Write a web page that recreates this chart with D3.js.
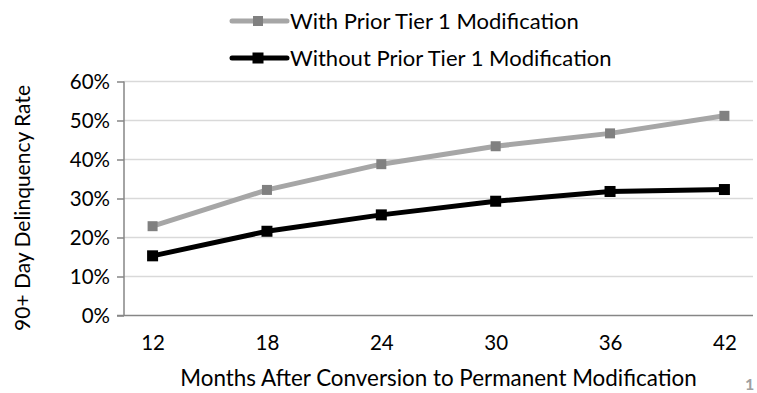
<!DOCTYPE html>
<html>
<head>
<meta charset="utf-8">
<script src="https://cdn.jsdelivr.net/npm/d3@7"></script>
<style>
  html, body { margin: 0; padding: 0; background: #fff; }
  svg { display: block; font-family: Lato, "Open Sans", sans-serif; }
</style>
</head>
<body>
<div id="chart"></div>
<script>
// Data
const months = ["12", "18", "24", "30", "36", "42"];
const withPrior = [0.229, 0.322, 0.388, 0.434, 0.467, 0.512];
const withoutPrior = [0.153, 0.216, 0.258, 0.293, 0.318, 0.323];
const yTicks = [0, 0.1, 0.2, 0.3, 0.4, 0.5, 0.6];

const series = [
  { name: "With Prior Tier 1 Modification", values: withPrior, line: "#a6a6a6", marker: "#808080", size: 10 },
  { name: "Without Prior Tier 1 Modification", values: withoutPrior, line: "#000000", marker: "#000000", size: 11 }
];

const width = 757, height = 393;
const margin = { top: 81.5, right: 4, bottom: 77.5, left: 124 };
const innerW = width - margin.left - margin.right;
const innerH = height - margin.top - margin.bottom;

const svg = d3.select("#chart").append("svg")
  .attr("width", width)
  .attr("height", height);

const g = svg.append("g")
  .attr("transform", `translate(${margin.left},${margin.top})`);

const x = d3.scalePoint().domain(months).range([0, innerW]).padding(0.25);
const y = d3.scaleLinear().domain([0, 0.6]).range([innerH, 0]);

// Gridlines
g.append("g")
  .selectAll("line")
  .data(yTicks.slice(1))
  .join("line")
  .attr("x1", 0).attr("x2", innerW)
  .attr("y1", d => y(d)).attr("y2", d => y(d))
  .attr("stroke", "#d9d9d9")
  .attr("stroke-width", 1.5);

// Y axis
const yAxis = g.append("g")
  .call(d3.axisLeft(y).tickValues(yTicks).tickFormat(d3.format(".0%")).tickSize(7).tickPadding(7));
yAxis.select(".domain").attr("stroke", "#868686").attr("stroke-width", 1.5).attr("d", `M0,${innerH}V0`);
yAxis.selectAll(".tick line").attr("stroke", "#868686").attr("stroke-width", 1.5);
yAxis.selectAll("text").attr("font-size", 20.5).attr("fill", "#000").attr("font-family", "Lato");

// X axis
const xAxis = g.append("g")
  .attr("transform", `translate(0,${innerH})`)
  .call(d3.axisBottom(x).tickSize(0).tickPadding(20));
xAxis.select(".domain").attr("stroke", "#868686").attr("stroke-width", 1.5).attr("d", `M-7,0H${innerW}`);
xAxis.selectAll("text").attr("font-size", 20.5).attr("fill", "#000").attr("font-family", "Lato");

// Lines and markers
const line = d3.line().x((d, i) => x(months[i])).y(d => y(d));

series.forEach(s => {
  g.append("path")
    .datum(s.values)
    .attr("fill", "none")
    .attr("stroke", s.line)
    .attr("stroke-width", 5)
    .attr("stroke-linejoin", "round")
    .attr("d", line);

  g.append("g")
    .selectAll("rect")
    .data(s.values)
    .join("rect")
    .attr("x", (d, i) => x(months[i]) - s.size / 2)
    .attr("y", d => y(d) - s.size / 2)
    .attr("width", s.size)
    .attr("height", s.size)
    .attr("fill", s.marker);
});

// Axis titles
svg.append("text")
  .attr("x", margin.left + innerW / 2)
  .attr("y", 386)
  .attr("text-anchor", "middle")
  .attr("font-size", 22.4)
  .attr("fill", "#000")
  .text("Months After Conversion to Permanent Modification");

svg.append("text")
  .attr("transform", `translate(30,${208}) rotate(-90)`)
  .attr("text-anchor", "middle")
  .attr("font-size", 21)
  .attr("fill", "#000")
  .text("90+ Day Delinquency Rate");

// Legend
const legend = svg.append("g").attr("transform", "translate(232,0)");
const item = legend.selectAll("g")
  .data(series)
  .join("g")
  .attr("transform", (d, i) => `translate(0,${21 + i * 37})`);

item.append("line")
  .attr("x1", 0).attr("x2", 55)
  .attr("stroke", d => d.line)
  .attr("stroke-width", 5)
  .attr("stroke-linecap", "round");

item.append("rect")
  .attr("x", d => 26 - d.size / 2)
  .attr("y", d => -d.size / 2)
  .attr("width", d => d.size)
  .attr("height", d => d.size)
  .attr("fill", d => d.marker);

item.append("text")
  .attr("x", 58)
  .attr("dy", "0.35em")
  .attr("font-size", 22)
  .attr("fill", "#000")
  .text(d => d.name);

// Page number at lower right corner
svg.append("text")
  .attr("x", 745)
  .attr("y", 390)
  .attr("font-size", 16)
  .attr("font-weight", "bold")
  .attr("fill", "#a0a0a0")
  .text("1");
</script>
</body>
</html>
